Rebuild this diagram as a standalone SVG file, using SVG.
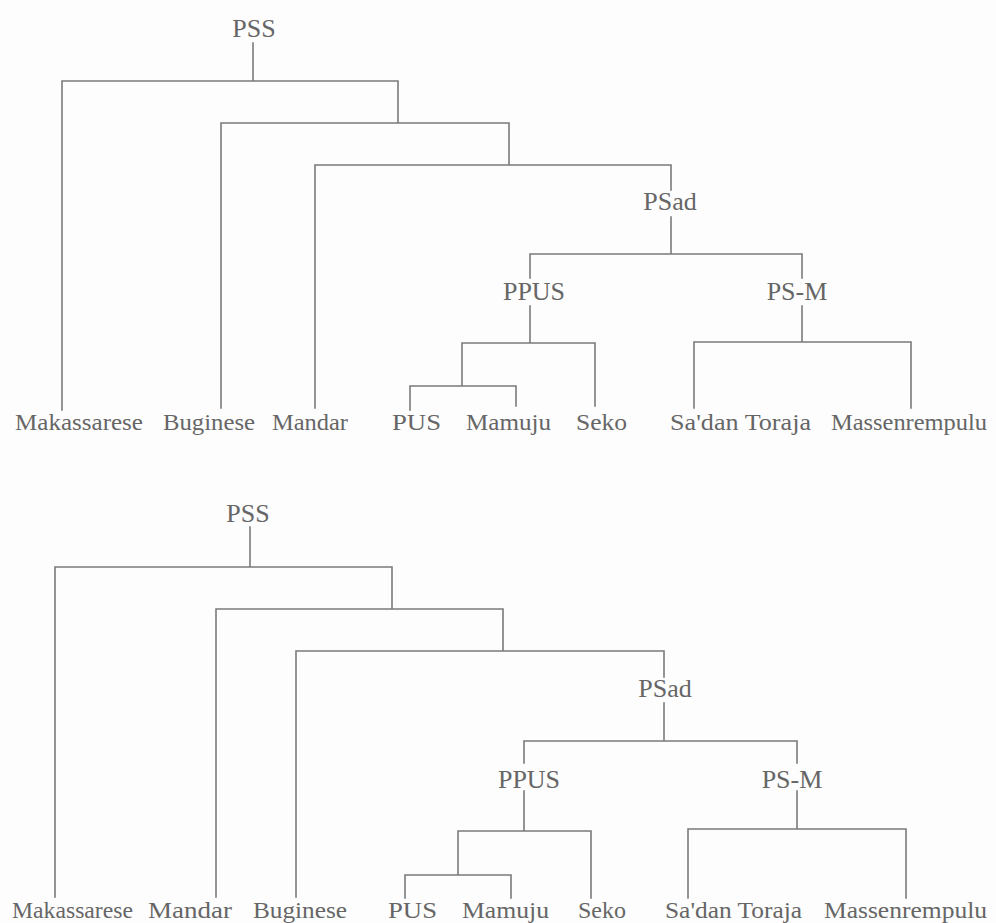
<svg xmlns="http://www.w3.org/2000/svg" width="996" height="923" viewBox="0 0 996 923">
<style>
.bg{fill:#fdfdfd}
.e{fill:none;stroke:#7a7a7a;stroke-width:1.6;stroke-linecap:square}
.n{font-family:"Liberation Serif","Times New Roman",serif;font-size:26px;fill:#666;text-anchor:middle}
.l{font-family:"Liberation Serif","Times New Roman",serif;font-size:24px;fill:#666}
</style>
<rect class="bg" x="0" y="0" width="996" height="923"/>
<g id="connectors">
<path class="e" d="M253,43V81M62,81H398M62,81V410M398,81V123M221,123H509M221,123V408M509,123V165M315,165H671M315,165V408M671,165V190M671,217V254M530,254H802M530,254V278M802,254V278M530,306V343M462,343H595M462,343V386M410,386H516M410,386V410M516,386V406M595,343V406M802,306V342M694,342H911M694,342V408M911,342V408"/>
<path class="e" d="M250,527V567M55,567H392M55,567V897M392,567V609M216,609H503M216,609V897M503,609V651M296,651H664M296,651V897M664,651V677M664,703V741M524,741H797M524,741V763M797,741V763M524,791V831M458,831H591M458,831V875M405,875H511M405,875V898M511,875V898M591,831V898M797,791V829M688,829H906M688,829V898M906,829V898"/>
</g>
<g id="top-PSS"><text class="n" x="254" y="37">PSS</text></g>
<g id="top-PSad"><text class="n" x="670" y="210">PSad</text></g>
<g id="top-PPUS"><text class="n" x="534" y="300">PPUS</text></g>
<g id="top-PSM"><text class="n" x="797" y="300">PS-M</text></g>
<g id="top-Makassarese"><text class="l" x="15" y="430" textLength="128" lengthAdjust="spacingAndGlyphs">Makassarese</text></g>
<g id="top-Buginese"><text class="l" x="163" y="430" textLength="92" lengthAdjust="spacingAndGlyphs">Buginese</text></g>
<g id="top-Mandar"><text class="l" x="272" y="430" textLength="76" lengthAdjust="spacingAndGlyphs">Mandar</text></g>
<g id="top-PUS"><text class="l" x="392" y="430" textLength="49" lengthAdjust="spacingAndGlyphs">PUS</text></g>
<g id="top-Mamuju"><text class="l" x="466" y="430" textLength="85" lengthAdjust="spacingAndGlyphs">Mamuju</text></g>
<g id="top-Seko"><text class="l" x="576" y="430" textLength="51" lengthAdjust="spacingAndGlyphs">Seko</text></g>
<g id="top-SadanToraja"><text class="l" x="670" y="430" textLength="141" lengthAdjust="spacingAndGlyphs">Sa'dan Toraja</text></g>
<g id="top-Massenrempulu"><text class="l" x="831" y="430" textLength="156" lengthAdjust="spacingAndGlyphs">Massenrempulu</text></g>
<g id="bot-PSS"><text class="n" x="248" y="522">PSS</text></g>
<g id="bot-PSad"><text class="n" x="665" y="697">PSad</text></g>
<g id="bot-PPUS"><text class="n" x="529" y="788">PPUS</text></g>
<g id="bot-PSM"><text class="n" x="792" y="788">PS-M</text></g>
<g id="bot-Makassarese"><text class="l" x="12" y="918" textLength="121" lengthAdjust="spacingAndGlyphs">Makassarese</text></g>
<g id="bot-Mandar"><text class="l" x="148" y="918" textLength="84" lengthAdjust="spacingAndGlyphs">Mandar</text></g>
<g id="bot-Buginese"><text class="l" x="253" y="918" textLength="94" lengthAdjust="spacingAndGlyphs">Buginese</text></g>
<g id="bot-PUS"><text class="l" x="388" y="918" textLength="49" lengthAdjust="spacingAndGlyphs">PUS</text></g>
<g id="bot-Mamuju"><text class="l" x="462" y="918" textLength="87" lengthAdjust="spacingAndGlyphs">Mamuju</text></g>
<g id="bot-Seko"><text class="l" x="578" y="918" textLength="48" lengthAdjust="spacingAndGlyphs">Seko</text></g>
<g id="bot-SadanToraja"><text class="l" x="665" y="918" textLength="137" lengthAdjust="spacingAndGlyphs">Sa'dan Toraja</text></g>
<g id="bot-Massenrempulu"><text class="l" x="824" y="918" textLength="163" lengthAdjust="spacingAndGlyphs">Massenrempulu</text></g>
</svg>
